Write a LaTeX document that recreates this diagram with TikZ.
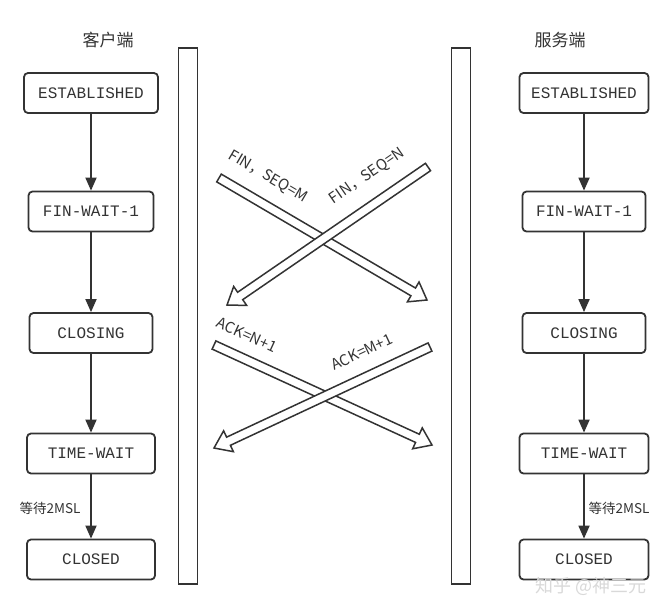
\documentclass[tikz,border=0pt]{standalone}
\usepackage{fontspec}
\setmonofont{Liberation Mono}
\newfontfamily\cjk{Noto Sans CJK SC}
\usetikzlibrary{arrows.meta,calc}
\definecolor{ink}{HTML}{333333}
\tikzset{
  state/.style={draw=ink, line width=1.8pt, rounded corners=4pt, minimum height=40pt, inner sep=0pt,
    font=\ttfamily\fontsize{16}{16}\selectfont, text=ink},
  flow/.style={draw=ink, line width=1.8pt, -{Triangle[length=13pt,width=11pt]}},
  bar/.style={draw=ink, line width=1.8pt, minimum width=19pt, minimum height=536pt, inner sep=0pt},
  msg/.style={font=\cjk\fontsize{15}{15}\selectfont, text=ink},
  wait/.style={font=\cjk\fontsize{13.5}{14}\selectfont, text=ink},
  title/.style={font=\cjk\fontsize{17}{17}\selectfont, text=ink},
  block/.style={draw=ink, line width=1.5pt, fill=white, line join=miter},
}
\newcommand\blockarrow[2]{%
  \coordinate (#1h) at ($(#2)!16pt!(#1)$);
  \draw[block] ($(#1)!4.5pt!90:(#2)$) -- ($(#1h)!4.5pt!90:(#2)$) -- ($(#1h)!11.5pt!90:(#2)$) -- (#2)
    -- ($(#1h)!11.5pt!-90:(#2)$) -- ($(#1h)!4.5pt!-90:(#2)$) -- ($(#1)!4.5pt!-90:(#2)$) -- cycle;
}
\begin{document}
\begin{tikzpicture}[x=1pt,y=-1pt]
\useasboundingbox (0,0) rectangle (671,614);
\fill[white] (0,0) rectangle (671,614);

% titles
\node[title] (tc) at (108,40) {客户端};
\node[title] (ts) at (560,40) {服务端};

% bars
\node[bar] (lbar) at (188,316) {};
\node[bar] (rbar) at (461,316) {};

% client states
\node[state, minimum width=134pt] (c1) at (91,93) {ESTABLISHED};
\node[state, minimum width=125pt] (c2) at (91,211.5) {FIN-WAIT-1};
\node[state, minimum width=123pt] (c3) at (91,333) {CLOSING};
\node[state, minimum width=128pt] (c4) at (91,453.5) {TIME-WAIT};
\node[state, minimum width=128pt] (c5) at (91,559.5) {CLOSED};
\draw[flow] (c1) -- (c2);
\draw[flow] (c2) -- (c3);
\draw[flow] (c3) -- (c4);
\draw[flow] (c4) -- (c5);
\node[wait] (cw) at (50,508) {等待2MSL};

% server states
\node[state, minimum width=129pt] (s1) at (584,93) {ESTABLISHED};
\node[state, minimum width=123pt] (s2) at (584,211.5) {FIN-WAIT-1};
\node[state, minimum width=123pt] (s3) at (584,333) {CLOSING};
\node[state, minimum width=129pt] (s4) at (584,453.5) {TIME-WAIT};
\node[state, minimum width=129pt] (s5) at (584,559.5) {CLOSED};
\draw[flow] (s1) -- (s2);
\draw[flow] (s2) -- (s3);
\draw[flow] (s3) -- (s4);
\draw[flow] (s4) -- (s5);
\node[wait] (sw) at (619,508) {等待2MSL};

% messages
\coordinate (fmA) at (219,178);
\coordinate (fmB) at (427,300);
\coordinate (fnA) at (428,167);
\coordinate (fnB) at (227,305);
\coordinate (anA) at (214,345);
\coordinate (anB) at (432,445);
\coordinate (amA) at (430,347);
\coordinate (amB) at (214,448);
\blockarrow{fmA}{fmB}
\blockarrow{fnA}{fnB}
\blockarrow{anA}{anB}
\blockarrow{amA}{amB}

\node[msg, rotate=-30.4] (lfm) at (268,177) {FIN，SEQ=M};
\node[msg, rotate=34.5] (lfn) at (367,176) {FIN，SEQ=N};
\node[msg, rotate=-24.6] (lan) at (247,335) {ACK=N+1};
\node[msg, rotate=25] (lam) at (362,352) {ACK=M+1};

% watermark
\node[font=\cjk\fontsize{18}{18}\selectfont, text=black!15] (wm) at (591,586) {知乎 @神三元};
\end{tikzpicture}
\end{document}
